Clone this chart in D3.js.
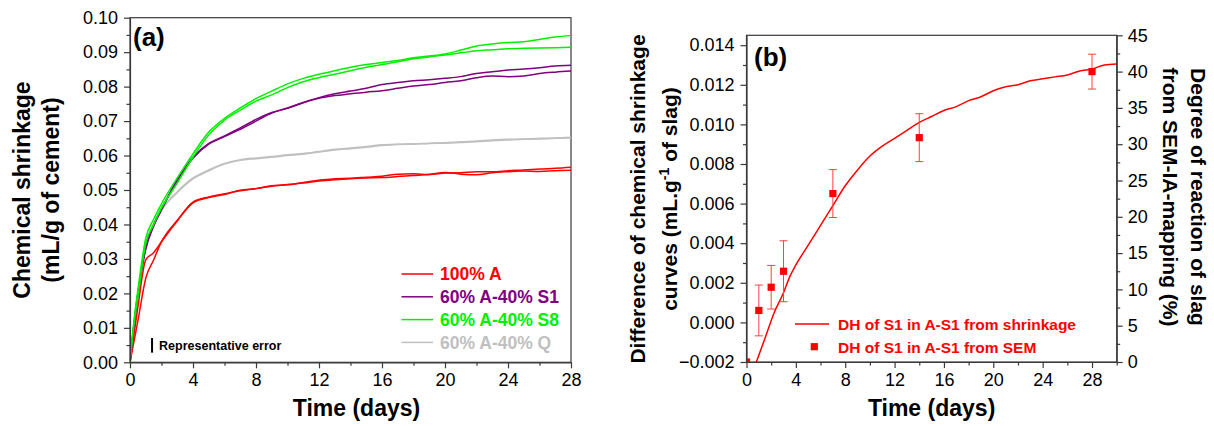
<!DOCTYPE html>
<html>
<head>
<meta charset="utf-8">
<script src="https://cdn.jsdelivr.net/npm/d3@7"></script>
<style>
  body { margin: 0; background: #fff; }
  svg { font-family: "Liberation Sans", Arial, sans-serif; }
  .axis path, .axis line { stroke: #3a3a3a; stroke-width: 1.2; }
  .axis text { font-size: 18px; fill: #000; }
</style>
</head>
<body>
<svg id="fig" width="1214" height="426"></svg>
<script>
// ---- data, panel (a): chemical shrinkage, two replicates per mix
const days = [0, 0.25, 0.5, 1, 1.5, 2, 3, 4, 5, 6, 7, 8, 9, 10, 11, 12, 13, 14, 15, 16, 17, 18, 19, 20, 21, 22, 23, 24, 25, 26, 27, 28];

const redA = [0, 0.008, 0.016, 0.0297, 0.0318, 0.035, 0.041, 0.0463, 0.0478, 0.0487, 0.0499, 0.0504, 0.0512, 0.0515, 0.0522, 0.0528, 0.0533, 0.0534, 0.0537, 0.054, 0.0546, 0.0547, 0.0545, 0.0549, 0.055, 0.0553, 0.0553, 0.0556, 0.0558, 0.0561, 0.0563, 0.0566];
const redB = [0, 0.006, 0.012, 0.0244, 0.0297, 0.035, 0.0412, 0.0465, 0.048, 0.0489, 0.0498, 0.0504, 0.0511, 0.0516, 0.052, 0.0526, 0.053, 0.0533, 0.0535, 0.0536, 0.0539, 0.0542, 0.0545, 0.0551, 0.0546, 0.0544, 0.055, 0.0553, 0.0555, 0.0554, 0.0556, 0.0557];
const purpleA = [0, 0.011, 0.02, 0.0333, 0.04, 0.0445, 0.053, 0.0595, 0.0635, 0.0657, 0.068, 0.0705, 0.0725, 0.0738, 0.0754, 0.0768, 0.0779, 0.0787, 0.0795, 0.0806, 0.0812, 0.0817, 0.082, 0.0824, 0.0829, 0.0838, 0.0843, 0.0848, 0.0851, 0.0855, 0.086, 0.0862];
const purpleB = [0, 0.0105, 0.0195, 0.0328, 0.0395, 0.0442, 0.0527, 0.0592, 0.0633, 0.0655, 0.0676, 0.07, 0.0723, 0.0737, 0.0753, 0.0766, 0.0774, 0.0779, 0.0784, 0.0788, 0.0795, 0.0802, 0.0806, 0.0812, 0.0817, 0.0826, 0.0831, 0.0829, 0.0831, 0.0838, 0.0842, 0.0845];
const greenA = [0, 0.012, 0.021, 0.036, 0.0415, 0.046, 0.0535, 0.0605, 0.0668, 0.0708, 0.0738, 0.0765, 0.0787, 0.0808, 0.0824, 0.0836, 0.0846, 0.0856, 0.0864, 0.087, 0.0876, 0.0884, 0.0889, 0.0895, 0.0906, 0.0918, 0.0924, 0.0928, 0.093, 0.0937, 0.0944, 0.0948];
const greenB = [0, 0.011, 0.019, 0.0345, 0.04, 0.0448, 0.052, 0.0595, 0.066, 0.0703, 0.0732, 0.0758, 0.0776, 0.0797, 0.0814, 0.0826, 0.0836, 0.0846, 0.0856, 0.0864, 0.0872, 0.0881, 0.0886, 0.0892, 0.0898, 0.0904, 0.0907, 0.091, 0.0911, 0.0912, 0.0913, 0.0914];
const grayA = [0, 0.011, 0.02, 0.0335, 0.04, 0.0443, 0.0495, 0.0535, 0.0558, 0.0577, 0.0588, 0.0593, 0.0597, 0.0602, 0.0606, 0.0612, 0.0618, 0.0622, 0.0626, 0.0631, 0.0633, 0.0634, 0.0636, 0.0637, 0.064, 0.0642, 0.0645, 0.0647, 0.0648, 0.065, 0.0651, 0.0653];
const grayB = [0, 0.0105, 0.0195, 0.033, 0.0395, 0.044, 0.0492, 0.0532, 0.0556, 0.0575, 0.0586, 0.0591, 0.0595, 0.06, 0.0604, 0.061, 0.0616, 0.062, 0.0624, 0.0629, 0.0632, 0.0633, 0.0635, 0.0636, 0.0638, 0.064, 0.0643, 0.0645, 0.0647, 0.0648, 0.065, 0.0651];

const mixNames = ["100% A", "60% A-40% S1", "60% A-40% S8", "60% A-40% Q"];
const mixColors = ["#ff0000", "#800080", "#00f000", "#c0c0c0"];
const mixSeries = [[redA, redB], [purpleA, purpleB], [greenA, greenB], [grayA, grayB]];
const repError = { day: 1.4, lo: 0.0028, hi: 0.00705 };

const ticksA_x = [0, 4, 8, 12, 16, 20, 24, 28];
const ticksA_y = [0, 0.01, 0.02, 0.03, 0.04, 0.05, 0.06, 0.07, 0.08, 0.09, 0.10];

// ---- data, panel (b)
const dhDays = [0.8, 1.5, 2.25, 3, 3.5, 4, 5, 6, 7, 8, 9, 10, 11, 12, 13, 14, 15, 16, 17, 18, 19, 20, 21, 22, 23, 24, 25, 26, 27, 28, 29, 30];
const dhShrink = [-0.002, -0.0008, 0.0005, 0.0015, 0.0023, 0.0029, 0.0039, 0.0049, 0.0059, 0.0069, 0.0077, 0.0084, 0.0089, 0.0093, 0.0097, 0.0101, 0.0104, 0.0107, 0.0109, 0.0112, 0.0114, 0.0117, 0.0119, 0.0120, 0.0122, 0.0123, 0.0124, 0.0125, 0.0127, 0.0128, 0.0130, 0.01305];
const semDays = [0, 1, 2, 3, 7, 14, 28];
const semDoR = [0, 7.1, 10.3, 12.5, 23.2, 30.9, 40.0];
const semErr = [0, 3.5, 3.0, 4.2, 3.3, 3.3, 2.4];

const ticksB_x = [0, 4, 8, 12, 16, 20, 24, 28];
const ticksB_y = [-0.002, 0, 0.002, 0.004, 0.006, 0.008, 0.010, 0.012, 0.014];
const ticksB_y2 = [0, 5, 10, 15, 20, 25, 30, 35, 40, 45];

const svg = d3.select("#fig");

// helper: minor ticks without labels
function minor(g, axisFn, scale, vals, size) {
  g.append("g").attr("class", "axis")
    .call(axisFn(scale).tickValues(vals).tickSize(size).tickFormat(""))
    .call(s => s.select(".domain").remove());
}

// ================= panel (a) =================
const xa = d3.scaleLinear().domain([0, 28]).range([130, 571]);
const ya = d3.scaleLinear().domain([0, 0.10]).range([362.3, 17.7]);

const ga = svg.append("g");

ga.append("rect")
  .attr("x", xa(0)).attr("y", ya(0.10))
  .attr("width", xa(28) - xa(0)).attr("height", ya(0) - ya(0.10))
  .attr("fill", "none").attr("stroke", "#3a3a3a").attr("stroke-width", 1.2);

const lineA = d3.line().x((d, i) => xa(days[i])).y(d => ya(d)).curve(d3.curveMonotoneX);

// draw gray first, then red, purple, green like the picture
[3, 0, 1, 2].forEach(k => {
  mixSeries[k].forEach(s => {
    ga.append("path").datum(s)
      .attr("d", lineA)
      .attr("fill", "none")
      .attr("stroke", mixColors[k])
      .attr("stroke-width", 1.5);
  });
});

ga.append("g").attr("class", "axis")
  .attr("transform", `translate(0,${ya(0)})`)
  .call(d3.axisBottom(xa).tickValues(ticksA_x).tickSize(6).tickPadding(5).tickSizeOuter(0));
minor(ga.append("g").attr("transform", `translate(0,${ya(0)})`), d3.axisBottom, xa, d3.range(2, 28, 4), 3.5);

ga.append("g").attr("class", "axis")
  .attr("transform", `translate(${xa(0)},0)`)
  .call(d3.axisLeft(ya).tickValues(ticksA_y).tickSize(6).tickPadding(6).tickSizeOuter(0)
    .tickFormat(d3.format(".2f")));
minor(ga.append("g").attr("transform", `translate(${xa(0)},0)`), d3.axisLeft, ya, d3.range(0.005, 0.1, 0.01), 3.5);

ga.append("text")
  .attr("x", (xa(0) + xa(28)) / 2 + 6).attr("y", 416)
  .attr("text-anchor", "middle")
  .attr("font-size", 23).attr("font-weight", "bold")
  .text("Time (days)");

ga.append("text")
  .attr("transform", "translate(29.5,190) rotate(-90)")
  .attr("text-anchor", "middle")
  .attr("font-size", 23).attr("font-weight", "bold")
  .text("Chemical shrinkage");
ga.append("text")
  .attr("transform", "translate(58.5,190) rotate(-90)")
  .attr("text-anchor", "middle")
  .attr("font-size", 23).attr("font-weight", "bold")
  .text("(mL/g of cement)");

ga.append("text")
  .attr("x", 133).attr("y", 46)
  .attr("font-size", 26).attr("font-weight", "bold")
  .text("(a)");

// representative error bar
ga.append("line")
  .attr("x1", xa(repError.day)).attr("x2", xa(repError.day))
  .attr("y1", ya(repError.lo)).attr("y2", ya(repError.hi))
  .attr("stroke", "#000").attr("stroke-width", 2);
ga.append("text")
  .attr("x", xa(repError.day) + 7).attr("y", 350)
  .attr("font-size", 12.5).attr("font-weight", "bold")
  .text("Representative error");

// legend (a)
const legA = ga.append("g");
mixNames.forEach((name, i) => {
  const yc = 274 + i * 22.8;
  legA.append("line")
    .attr("x1", 401.5).attr("x2", 433)
    .attr("y1", yc).attr("y2", yc)
    .attr("stroke", mixColors[i]).attr("stroke-width", 1.5);
  legA.append("text")
    .attr("x", 440).attr("y", yc + 6.3)
    .attr("font-size", 17.5).attr("font-weight", "bold")
    .attr("fill", mixColors[i])
    .text(name);
});

// ================= panel (b) =================
const xb = d3.scaleLinear().domain([0, 30]).range([746.5, 1116.7]);
const yb = d3.scaleLinear().domain([-0.002, 0.0145]).range([362, 35.3]);
const yb2 = d3.scaleLinear().domain([0, 45]).range([362, 35.3]);

const gb = svg.append("g");

gb.append("defs").append("clipPath").attr("id", "clipB")
  .append("rect")
  .attr("x", xb(0)).attr("y", yb2(45))
  .attr("width", xb(30) - xb(0)).attr("height", yb2(0) - yb2(45));

gb.append("rect")
  .attr("x", xb(0)).attr("y", yb2(45))
  .attr("width", xb(30) - xb(0)).attr("height", yb2(0) - yb2(45))
  .attr("fill", "none").attr("stroke", "#3a3a3a").attr("stroke-width", 1.2);

const lineB = d3.line().x((d, i) => xb(dhDays[i])).y(d => yb(d)).curve(d3.curveMonotoneX);
gb.append("path").datum(dhShrink)
  .attr("d", lineB)
  .attr("fill", "none").attr("stroke", "#ff0000").attr("stroke-width", 1.5);

const sem = semDays.map((d, i) => ({ day: d, v: semDoR[i], e: semErr[i] }));
const errG = gb.append("g").attr("stroke", "#ff4040").attr("stroke-width", 1);
sem.filter(d => d.e > 0).forEach(d => {
  const x = xb(d.day);
  errG.append("line").attr("x1", x).attr("x2", x).attr("y1", yb2(d.v - d.e)).attr("y2", yb2(d.v + d.e));
  errG.append("line").attr("x1", x - 4).attr("x2", x + 4).attr("y1", yb2(d.v - d.e)).attr("y2", yb2(d.v - d.e));
  errG.append("line").attr("x1", x - 4).attr("x2", x + 4).attr("y1", yb2(d.v + d.e)).attr("y2", yb2(d.v + d.e));
});
gb.append("g").attr("clip-path", "url(#clipB)")
  .selectAll("rect.sem").data(sem).enter()
  .append("rect").attr("class", "sem")
  .attr("x", d => xb(d.day) - 3.6).attr("y", d => yb2(d.v) - 3.6)
  .attr("width", 7.2).attr("height", 7.2)
  .attr("fill", "#ff0000");

gb.append("g").attr("class", "axis")
  .attr("transform", `translate(0,${yb(-0.002)})`)
  .call(d3.axisBottom(xb).tickValues(ticksB_x).tickSize(6).tickPadding(5).tickSizeOuter(0));
minor(gb.append("g").attr("transform", `translate(0,${yb(-0.002)})`), d3.axisBottom, xb, d3.range(2, 31, 4), 3.5);

gb.append("g").attr("class", "axis")
  .attr("transform", `translate(${xb(0)},0)`)
  .call(d3.axisLeft(yb).tickValues(ticksB_y).tickSize(6).tickPadding(6).tickSizeOuter(0)
    .tickFormat(d3.format(".3f")));
minor(gb.append("g").attr("transform", `translate(${xb(0)},0)`), d3.axisLeft, yb, d3.range(-0.001, 0.0145, 0.002), 3.5);

gb.append("g").attr("class", "axis")
  .attr("transform", `translate(${xb(30)},0)`)
  .call(d3.axisRight(yb2).tickValues(ticksB_y2).tickSize(6).tickPadding(5).tickSizeOuter(0));
minor(gb.append("g").attr("transform", `translate(${xb(30)},0)`), d3.axisRight, yb2, d3.range(2.5, 45, 5), 3.5);

gb.append("text")
  .attr("x", (xb(0) + xb(30)) / 2).attr("y", 416)
  .attr("text-anchor", "middle")
  .attr("font-size", 23).attr("font-weight", "bold")
  .text("Time (days)");

gb.append("text")
  .attr("transform", "translate(645,199) rotate(-90)")
  .attr("text-anchor", "middle")
  .attr("font-size", 21).attr("font-weight", "bold")
  .text("Difference of chemical shrinkage");
const t2 = gb.append("text")
  .attr("transform", "translate(677,199) rotate(-90)")
  .attr("text-anchor", "middle")
  .attr("font-size", 21).attr("font-weight", "bold");
t2.append("tspan").text("curves (mL.g");
t2.append("tspan").attr("font-size", 14).attr("dy", -8).text("-1");
t2.append("tspan").attr("dy", 8).text(" of slag)");

gb.append("text")
  .attr("transform", "translate(1191,197) rotate(90)")
  .attr("text-anchor", "middle")
  .attr("font-size", 21).attr("font-weight", "bold")
  .text("Degree of reaction of slag");
gb.append("text")
  .attr("transform", "translate(1163,197) rotate(90)")
  .attr("text-anchor", "middle")
  .attr("font-size", 21).attr("font-weight", "bold")
  .text("from SEM-IA-mapping (%)");

gb.append("text")
  .attr("x", 754).attr("y", 66)
  .attr("font-size", 26).attr("font-weight", "bold")
  .text("(b)");

// legend (b)
gb.append("line")
  .attr("x1", 795).attr("x2", 829).attr("y1", 324).attr("y2", 324)
  .attr("stroke", "#ff0000").attr("stroke-width", 1.5);
gb.append("text")
  .attr("x", 838).attr("y", 329.5)
  .attr("font-size", 15.5).attr("font-weight", "bold").attr("fill", "#ff0000")
  .text("DH of S1 in A-S1 from shrinkage");
gb.append("rect")
  .attr("x", 814.3 - 3.6).attr("y", 346.7 - 3.6).attr("width", 7.2).attr("height", 7.2)
  .attr("fill", "#ff0000");
gb.append("text")
  .attr("x", 838).attr("y", 352.5)
  .attr("font-size", 15.5).attr("font-weight", "bold").attr("fill", "#ff0000")
  .text("DH of S1 in A-S1 from SEM");
</script>
</body>
</html>
